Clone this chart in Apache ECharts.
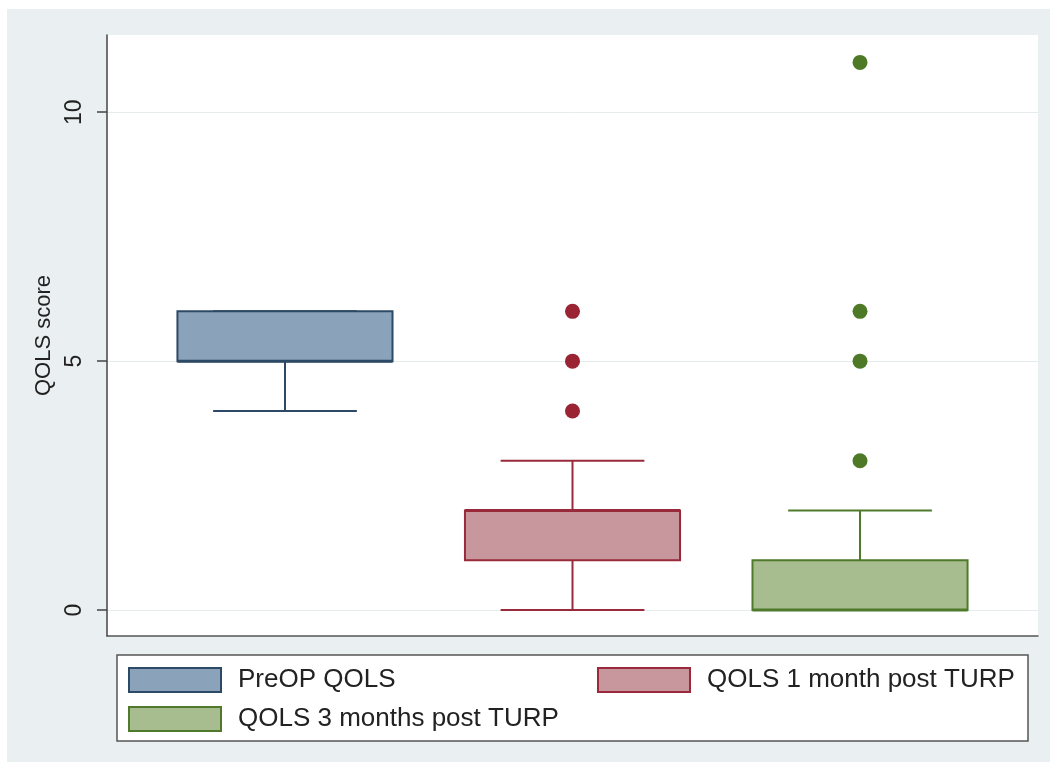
<!DOCTYPE html>
<html>
<head>
<meta charset="utf-8">
<style>
  html, body { margin: 0; padding: 0; background: #ffffff; }
  #chart { width: 1054px; height: 767px; }
</style>
<script src="https://cdn.jsdelivr.net/npm/echarts@6/dist/echarts.min.js"></script>
</head>
<body>
<div id="chart"></div>
<script>
// QOLS score distributions before and after TURP
const groups = ['PreOP QOLS', 'QOLS 1 month post TURP', 'QOLS 3 months post TURP'];
const groupPos = [1, 2, 3];
// [lower whisker, Q1, median, Q3, upper whisker]
const preopStats = [4, 5, 5, 6, 6];
const month1Stats = [0, 1, 2, 2, 3];
const month3Stats = [0, 0, 0, 1, 2];
// values beyond the whiskers
const preopOutliers = [];
const month1Outliers = [4, 5, 6];
const month3Outliers = [3, 5, 6, 11];
const yTicks = [0, 5, 10];

const fills = ['#8aa3ba', '#c8979e', '#a8bd8f'];
const edges = ['#2c4966', '#982a3b', '#4f7a2b'];
const dotColors = ['#2c4966', '#9a2334', '#4e7a27'];

const allStats = [preopStats, month1Stats, month3Stats];
const allOutliers = [preopOutliers, month1Outliers, month3Outliers];

const BOX_HALF = 0.374;
const CAP_HALF = 0.25;

function makeRender(idx) {
  return function (params, api) {
    const x = api.value(0);
    const lo = api.value(1), q1 = api.value(2), med = api.value(3), q3 = api.value(4), hi = api.value(5);
    const tl = api.coord([x - BOX_HALF, q3]);
    const br = api.coord([x + BOX_HALF, q1]);
    const c = api.coord([x, 0])[0];
    const yLo = api.coord([x, lo])[1];
    const yHi = api.coord([x, hi])[1];
    const yMed = api.coord([x, med])[1];
    const capL = api.coord([x - CAP_HALF, 0])[0];
    const capR = api.coord([x + CAP_HALF, 0])[0];
    const lineStyle = { stroke: edges[idx], lineWidth: 2 };
    return {
      type: 'group',
      children: [
        { type: 'line', shape: { x1: c, y1: tl[1], x2: c, y2: yHi }, style: lineStyle },
        { type: 'line', shape: { x1: c, y1: br[1], x2: c, y2: yLo }, style: lineStyle },
        { type: 'line', shape: { x1: capL, y1: yHi, x2: capR, y2: yHi }, style: lineStyle },
        { type: 'line', shape: { x1: capL, y1: yLo, x2: capR, y2: yLo }, style: lineStyle },
        { type: 'rect', shape: { x: tl[0], y: tl[1], width: br[0] - tl[0], height: br[1] - tl[1] },
          style: { fill: fills[idx], stroke: edges[idx], lineWidth: 2 } },
        { type: 'line', shape: { x1: tl[0], y1: yMed, x2: br[0], y2: yMed },
          style: { stroke: edges[idx], lineWidth: 3 } }
      ]
    };
  };
}

const series = [];
groups.forEach(function (name, i) {
  series.push({
    name: name,
    type: 'custom',
    renderItem: makeRender(i),
    encode: { x: 0, y: [1, 2, 3, 4, 5] },
    itemStyle: { color: fills[i], borderColor: edges[i] },
    data: [[groupPos[i]].concat(allStats[i])],
    z: 3
  });
});
groups.forEach(function (name, i) {
  series.push({
    name: name,
    type: 'scatter',
    symbol: 'circle',
    symbolSize: 15,
    itemStyle: { color: dotColors[i], opacity: 1 },
    data: allOutliers[i].map(function (v) { return [groupPos[i], v]; }),
    z: 4
  });
});

const legendText = { fontFamily: 'Liberation Sans, Arial, sans-serif', fontSize: 26, color: '#222', padding: [0, 0, 0, 12], lineHeight: 24 };
function legendItem(i) {
  return { name: groups[i], icon: 'rect', itemStyle: { color: fills[i], borderColor: edges[i], borderWidth: 2 } };
}

const chart = echarts.init(document.getElementById('chart'), null, { renderer: 'canvas' });
chart.setOption({
  animation: false,
  backgroundColor: '#ffffff',
  textStyle: { fontFamily: 'Liberation Sans, Arial, sans-serif' },
  graphic: [
    { type: 'rect', z: -10, shape: { x: 7, y: 9, width: 1043, height: 753 }, style: { fill: '#eaf0f2' } },
    { type: 'rect', z: -5, shape: { x: 117, y: 655, width: 911, height: 86 }, style: { fill: '#ffffff', stroke: '#555', lineWidth: 1.5 } }
  ],
  grid: {
    left: 107, top: 35, width: 931, height: 601,
    show: true, backgroundColor: '#ffffff', borderWidth: 0
  },
  xAxis: {
    type: 'value', min: 0.381, max: 3.619,
    axisLine: { show: true, onZero: false, lineStyle: { color: '#555', width: 1.5 } },
    axisTick: { show: false }, axisLabel: { show: false }, splitLine: { show: false }
  },
  yAxis: {
    type: 'value', min: -0.52, max: 11.55,
    name: 'QOLS score', nameLocation: 'middle', nameGap: 52, nameRotate: 90,
    nameTextStyle: { fontSize: 22, color: '#222' },
    axisLine: { show: true, lineStyle: { color: '#444', width: 1.5 } },
    axisTick: { show: true, length: 10, customValues: yTicks, lineStyle: { color: '#444', width: 1.5 } },
    axisLabel: { rotate: 90, margin: 21, fontSize: 23, color: '#222', customValues: yTicks },
    splitLine: { show: true, lineStyle: { color: '#e6ecee', width: 1 } }
  },
  legend: [
    {
      left: 128, top: 667, orient: 'vertical', padding: 0,
      itemWidth: 92, itemHeight: 24, itemGap: 13,
      textStyle: legendText,
      data: [legendItem(0), legendItem(2)]
    },
    {
      left: 597, top: 667, orient: 'vertical', padding: 0,
      itemWidth: 92, itemHeight: 24, itemGap: 13,
      textStyle: legendText,
      data: [legendItem(1)]
    }
  ],
  series: series
});
</script>
</body>
</html>
